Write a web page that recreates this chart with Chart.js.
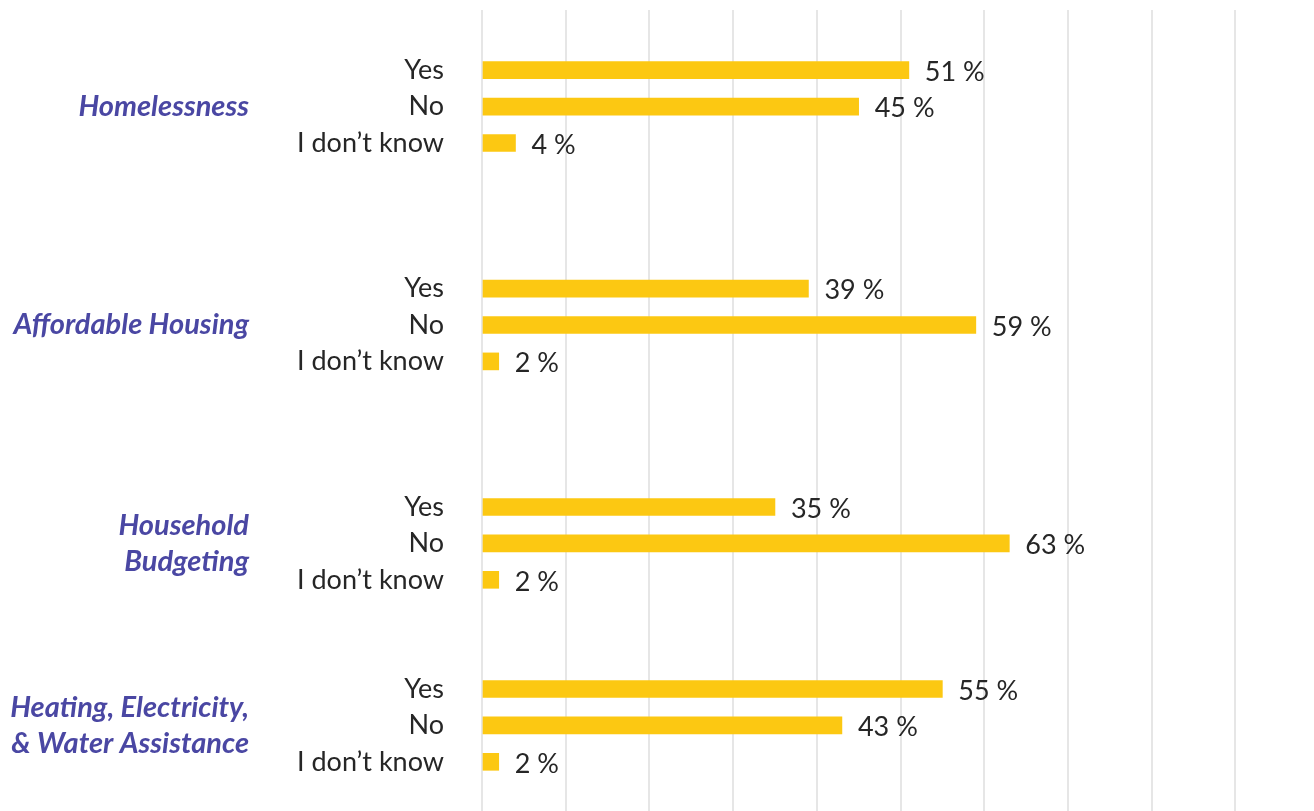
<!DOCTYPE html>
<html>
<head>
<meta charset="utf-8">
<script src="https://cdn.jsdelivr.net/npm/chart.js@4/dist/chart.umd.min.js"></script>
<style>
  html, body { margin: 0; padding: 0; background: #fff; overflow: hidden; }
  #wrap { width: 1319px; height: 811px; }
</style>
</head>
<body>
<div id="wrap"><canvas id="chart" width="1319" height="811"></canvas></div>
<script>
const groups = ['Homelessness', 'Affordable Housing', 'Household\nBudgeting', 'Heating, Electricity,\n& Water Assistance'];
const answers = ['Yes', 'No', 'I don\u2019t know'];
const yesValues = [51, 39, 35, 55];
const noValues = [45, 59, 63, 43];
const dontKnowValues = [4, 2, 2, 2];

// empty rows between the groups
const gapRows = [3, 3, 2];

const labels = [];
const values = [];
const groupRow = []; // row index of the "No" bar, where the group name sits
groups.forEach((g, i) => {
    const series = [yesValues[i], noValues[i], dontKnowValues[i]];
    answers.forEach((a, j) => {
        if (j === 1) groupRow.push(labels.length);
        labels.push(a);
        values.push(series[j]);
    });
    if (i < gapRows.length) {
        for (let k = 0; k < gapRows[i]; k++) {
            labels.push('');
            values.push(null);
        }
    }
});

const textFont = 'Lato';
const gridColor = '#e6e6e6';

const sideLabels = {
    id: 'sideLabels',
    afterDatasetsDraw(chart) {
        const ctx = chart.ctx;
        const meta = chart.getDatasetMeta(0);
        ctx.save();
        ctx.font = '27px ' + textFont;
        ctx.fillStyle = '#262626';
        ctx.textAlign = 'left';
        ctx.textBaseline = 'middle';
        meta.data.forEach((bar, i) => {
            const v = values[i];
            if (v == null) return;
            ctx.fillText(v + ' %', bar.x + 16, bar.y + 2);
        });

        const y = chart.scales.y;
        ctx.font = 'italic bold 29px ' + textFont;
        ctx.fillStyle = '#4a47a3';
        ctx.textAlign = 'right';
        groups.forEach((g, i) => {
            const lines = g.split('\n');
            const cy = y.getPixelForValue(groupRow[i]);
            lines.forEach((line, k) => {
                const ly = cy + (k - (lines.length - 1) / 2) * 36;
                ctx.fillText(line, 249, ly);
            });
        });
        ctx.restore();
    }
};

new Chart(document.getElementById('chart'), {
    type: 'bar',
    data: {
        labels: labels,
        datasets: [{
            data: values,
            backgroundColor: '#fcc812',
            barThickness: 17
        }]
    },
    options: {
        indexAxis: 'y',
        responsive: false,
        animation: false,
        layout: { padding: { top: 10, right: 0, bottom: 0, left: 0 } },
        plugins: {
            legend: { display: false },
            tooltip: { enabled: false }
        },
        scales: {
            x: {
                position: 'top',
                min: 0,
                max: 100,
                ticks: { display: false, stepSize: 10 },
                grid: { color: gridColor, lineWidth: 2, tickLength: 42 },
                border: { display: false },
                afterFit(scale) { scale.height = 42; }
            },
            x2: {
                type: 'linear',
                position: 'bottom',
                axis: 'x',
                min: 0,
                max: 100,
                ticks: { display: false, stepSize: 10 },
                grid: { color: gridColor, lineWidth: 2, tickLength: 31, drawOnChartArea: false },
                border: { display: false },
                afterFit(scale) { scale.height = 31; }
            },
            y: {
                type: 'category',
                ticks: {
                    autoSkip: false,
                    padding: 0,
                    color: '#262626',
                    font: { family: textFont, size: 27 }
                },
                grid: { display: false, drawTicks: true, tickLength: 38 },
                border: { display: false },
                afterFit(scale) {
                    scale.width = 482;
                    scale.paddingTop = 0;
                    scale.paddingBottom = 0;
                }
            }
        }
    },
    plugins: [sideLabels]
});
</script>
</body>
</html>
